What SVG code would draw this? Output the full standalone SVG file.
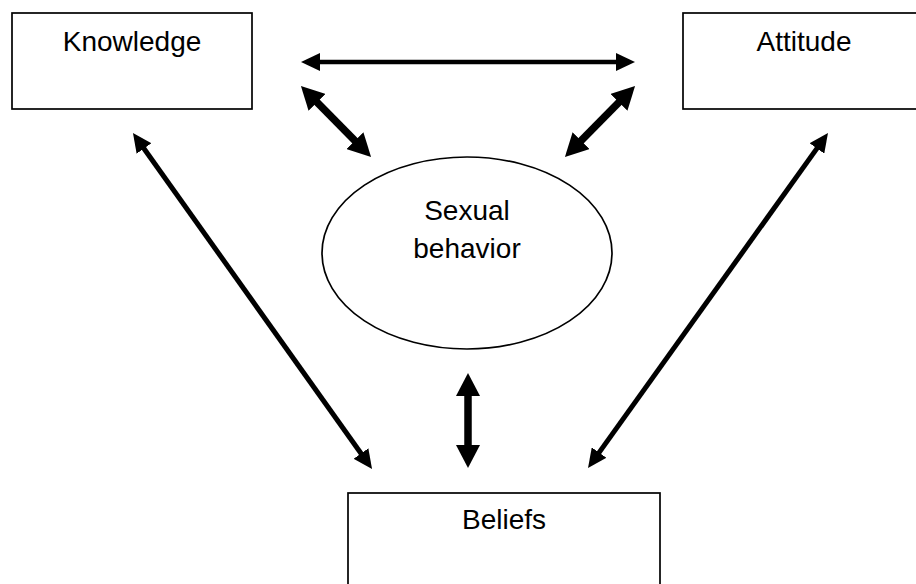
<svg xmlns="http://www.w3.org/2000/svg" width="916" height="584" viewBox="0 0 916 584">
<style>
.box{fill:#fff;stroke:#000;stroke-width:1.7}
.lbl{font-family:"Liberation Sans",Arial,sans-serif;font-size:28px;fill:#000;text-anchor:middle}
.thin{stroke:#000;stroke-width:4.5;fill:none;marker-start:url(#hThin);marker-end:url(#hThin)}
.long{stroke:#000;stroke-width:5;fill:none;marker-start:url(#hThin);marker-end:url(#hThin)}
.thick{stroke:#000;stroke-width:7.5;fill:none;marker-start:url(#hThick);marker-end:url(#hThick)}
</style>
<defs>
<marker id="hThin" markerUnits="userSpaceOnUse" viewBox="0 0 19 18" markerWidth="19" markerHeight="18" refX="1" refY="9" orient="auto-start-reverse"><path d="M0,0 L19,9 L0,18 z" fill="#000"/></marker>
<marker id="hThick" markerUnits="userSpaceOnUse" viewBox="0 0 23 24" markerWidth="23" markerHeight="24" refX="1" refY="12" orient="auto-start-reverse"><path d="M0,0 L23,12 L0,24 z" fill="#000"/></marker>
</defs>
<rect width="916" height="584" fill="#fff"/>
<g id="knowledge"><rect class="box" x="12" y="13" width="240" height="96"/><text class="lbl" x="132" y="51">Knowledge</text></g>
<g id="attitude"><rect class="box" x="683" y="13" width="242" height="96"/><text class="lbl" x="804" y="51">Attitude</text></g>
<g id="behavior"><ellipse class="box" cx="467" cy="253" rx="145" ry="96"/><text class="lbl" x="467" y="220">Sexual</text><text class="lbl" x="467" y="258">behavior</text></g>
<g id="beliefs"><rect class="box" x="348" y="493" width="312" height="100"/><text class="lbl" x="504" y="529">Beliefs</text></g>
<g id="connectors">
<line class="thin" x1="319" y1="62" x2="617" y2="62"/>
<line class="long" x1="143.4" y1="147.7" x2="361.6" y2="454.3"/>
<line class="long" x1="817.5" y1="147.6" x2="598.5" y2="453.4"/>
<line class="thick" x1="316.4" y1="101.7" x2="355.6" y2="141.3"/>
<line class="thick" x1="619.6" y1="101.7" x2="580.4" y2="141.3"/>
<line class="thick" x1="468" y1="395" x2="468" y2="446"/>
</g>
</svg>
